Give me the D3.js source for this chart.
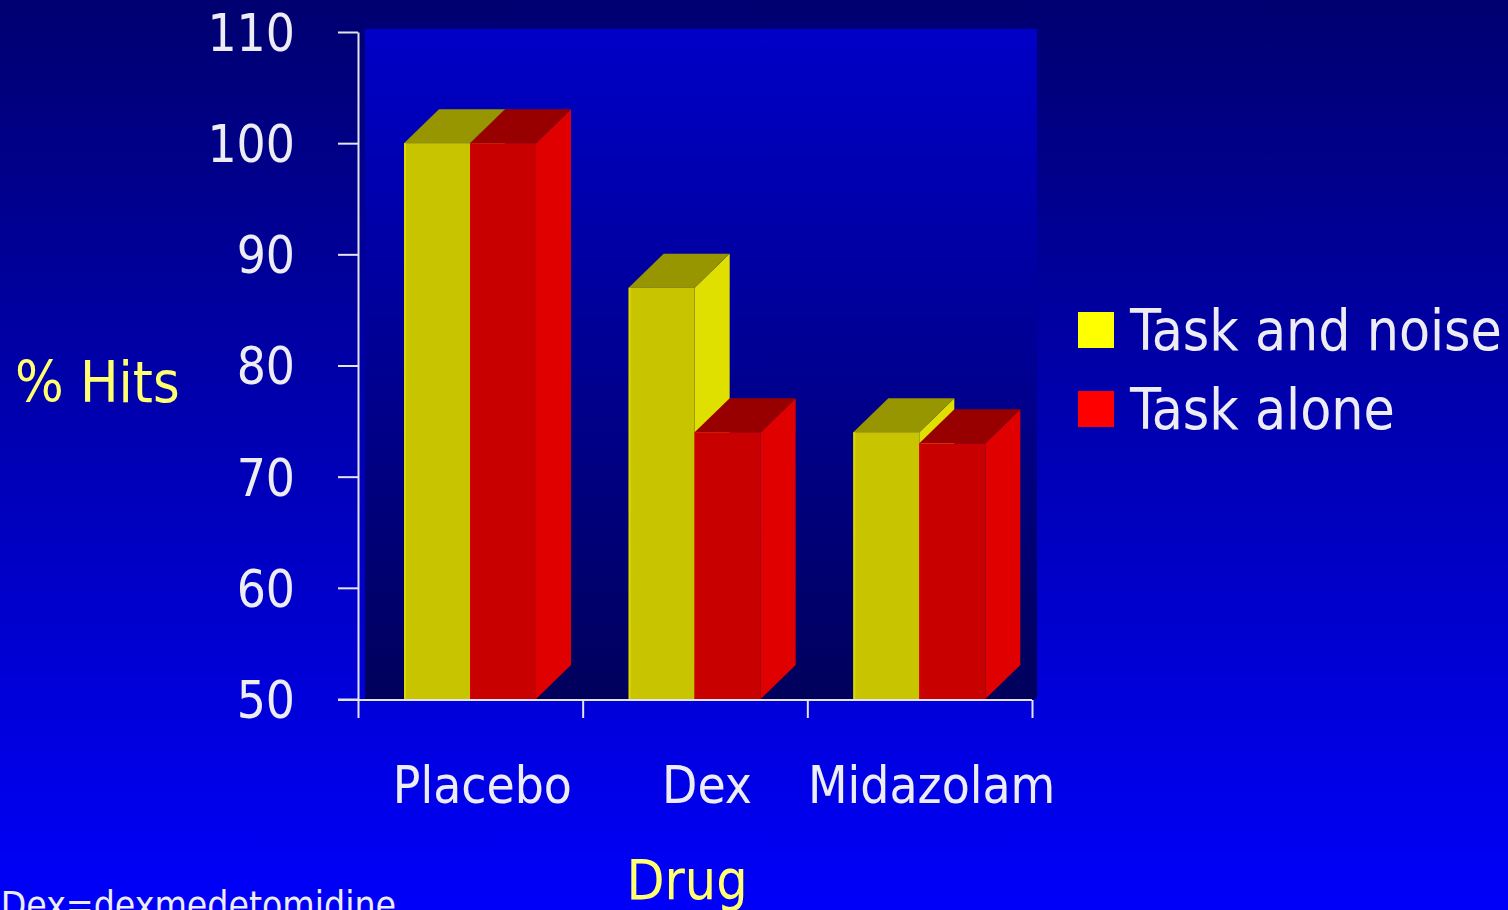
<!DOCTYPE html>
<html>
<head>
<meta charset="utf-8">
<script src="https://cdn.jsdelivr.net/npm/d3@7/dist/d3.min.js"></script>
<style>
  html, body { margin: 0; padding: 0; background: #000070; overflow: hidden; }
  svg { display: block; }
  text { font-family: "DejaVu Sans Condensed", "DejaVu Sans", sans-serif; font-stretch: condensed; }
</style>
</head>
<body>
<svg id="chart" width="1508" height="910"></svg>
<script>
// Data: % hits by drug and condition
const drugs = ["Placebo", "Dex", "Midazolam"];
const seriesNames = ["Task and noise", "Task alone"];
const taskAndNoise = [100, 87, 74];
const taskAlone = [100, 74, 73];
const yTicks = [50, 60, 70, 80, 90, 100, 110];

const seriesValues = [taskAndNoise, taskAlone];
const faceColors = [
  { front: "#c8c400", top: "#989600", side: "#e0e000", key: "#ffff00" },
  { front: "#c80000", top: "#980000", side: "#e00000", key: "#ff0000" }
];

const W = 1508, H = 910;
const svg = d3.select("#chart");
const defs = svg.append("defs");

// Slide background: dark navy at top to bright blue at bottom
const bg = defs.append("linearGradient").attr("id", "bg")
  .attr("x1", 0).attr("y1", 0).attr("x2", 0).attr("y2", 1);
bg.append("stop").attr("offset", "0%").attr("stop-color", "#000070");
bg.append("stop").attr("offset", "100%").attr("stop-color", "#0000fa");

// Back wall of the plot: bright at top, dark at bottom
const wallGrad = defs.append("linearGradient").attr("id", "wall")
  .attr("x1", 0).attr("y1", 0).attr("x2", 0).attr("y2", 1);
wallGrad.append("stop").attr("offset", "0%").attr("stop-color", "#0000c8");
wallGrad.append("stop").attr("offset", "100%").attr("stop-color", "#00005c");

svg.append("rect").attr("width", W).attr("height", H).attr("fill", "url(#bg)");

// Scales
const axisX0 = 358, axisX1 = 1032;
const y = d3.scaleLinear().domain([50, 110]).range([699, 32]);
const x0 = d3.scaleBand().domain(drugs).range([axisX0, axisX1]).padding(0);
const depthX = 35, depthY = 34;
const groupOffset = 46, groupWidth = 132;
const x1 = d3.scaleBand().domain(seriesNames).range([0, groupWidth]).padding(0);

// Back wall
svg.append("rect")
  .attr("x", axisX0 + 7).attr("y", y(110) - 3)
  .attr("width", axisX1 + 5 - (axisX0 + 7)).attr("height", y(50) - y(110) + 3)
  .attr("fill", "url(#wall)");

// 3D bars: side, top and front faces for each series
const bars = svg.append("g");
seriesNames.forEach((name, si) => {
  const col = faceColors[si];
  drugs.forEach((d, ci) => {
    const v = seriesValues[si][ci];
    const bx = x0(d) + groupOffset + x1(name);
    const bw = x1.bandwidth();
    const yt = y(v), yb = y(50);
    const g = bars.append("g");
    g.append("path")
      .attr("d", `M${bx + bw},${yt} L${bx + bw + depthX},${yt - depthY} L${bx + bw + depthX},${yb - depthY} L${bx + bw},${yb} Z`)
      .attr("fill", col.side);
    g.append("path")
      .attr("d", `M${bx},${yt} L${bx + depthX},${yt - depthY} L${bx + bw + depthX},${yt - depthY} L${bx + bw},${yt} Z`)
      .attr("fill", col.top);
    g.append("rect")
      .attr("x", bx).attr("y", yt).attr("width", bw).attr("height", yb - yt)
      .attr("fill", col.front);
    g.append("line")
      .attr("x1", bx + 1).attr("x2", bx + 1).attr("y1", yt).attr("y2", yb)
      .attr("stroke", si === 0 ? "#dcd800" : "#d00000").attr("stroke-width", 2);
  });
});

// Axes
const axisColor = "#e4e4ec";
const yAxis = svg.append("g")
  .attr("transform", `translate(${axisX0},0)`)
  .call(d3.axisLeft(y).tickValues(yTicks).tickSize(20).tickSizeOuter(0).tickFormat(d3.format("d")));
yAxis.select(".domain").attr("stroke", axisColor).attr("stroke-width", 2);
yAxis.selectAll(".tick line").attr("stroke", axisColor).attr("stroke-width", 2);
yAxis.selectAll(".tick text")
  .attr("x", -63).attr("dy", "0.36em")
  .attr("fill", "#ececf2")
  .style("font-size", "51px")
  .style("font-family", null);

const xEdges = d3.scaleLinear().domain([0, drugs.length]).range([axisX0, axisX1]);
const xAxis = svg.append("g")
  .attr("transform", `translate(0,${y(50) + 1})`)
  .call(d3.axisBottom(xEdges).ticks(drugs.length).tickSize(18).tickSizeOuter(0).tickFormat(""));
xAxis.select(".domain").attr("stroke", axisColor).attr("stroke-width", 2)
  .attr("d", `M${axisX0 - 20},0H${axisX1}`);
xAxis.selectAll(".tick line").attr("stroke", axisColor).attr("stroke-width", 2);

// Category labels
svg.append("g").selectAll("text").data(drugs).join("text")
  .attr("x", d => x0(d) + x0.bandwidth() / 2 + 12)
  .attr("y", 803)
  .attr("text-anchor", "middle")
  .attr("fill", "#ececf2")
  .style("font-size", "51px")
  .text(d => d);

// Axis titles
svg.append("text")
  .attr("x", 15).attr("y", 402)
  .attr("fill", "#ffff70")
  .style("font-size", "57px")
  .text("% Hits");

svg.append("text")
  .attr("x", 687).attr("y", 899)
  .attr("text-anchor", "middle")
  .attr("fill", "#ffff70")
  .style("font-size", "55px")
  .text("Drug");

// Legend
const legend = svg.append("g").attr("transform", "translate(1078,312)");
seriesNames.forEach((name, i) => {
  legend.append("rect")
    .attr("x", 0).attr("y", i * 79).attr("width", 36).attr("height", 36)
    .attr("fill", faceColors[i].key);
  legend.append("text")
    .attr("x", 52).attr("y", i * 79 + 38)
    .attr("fill", "#ececf2")
    .style("font-size", "56.5px")
    .text(name);
});

// Footnote
svg.append("text")
  .attr("x", 396).attr("y", 918)
  .attr("text-anchor", "end")
  .attr("fill", "#ececf2")
  .style("font-size", "37px")
  .text("Dex=dexmedetomidine");
</script>
</body>
</html>
